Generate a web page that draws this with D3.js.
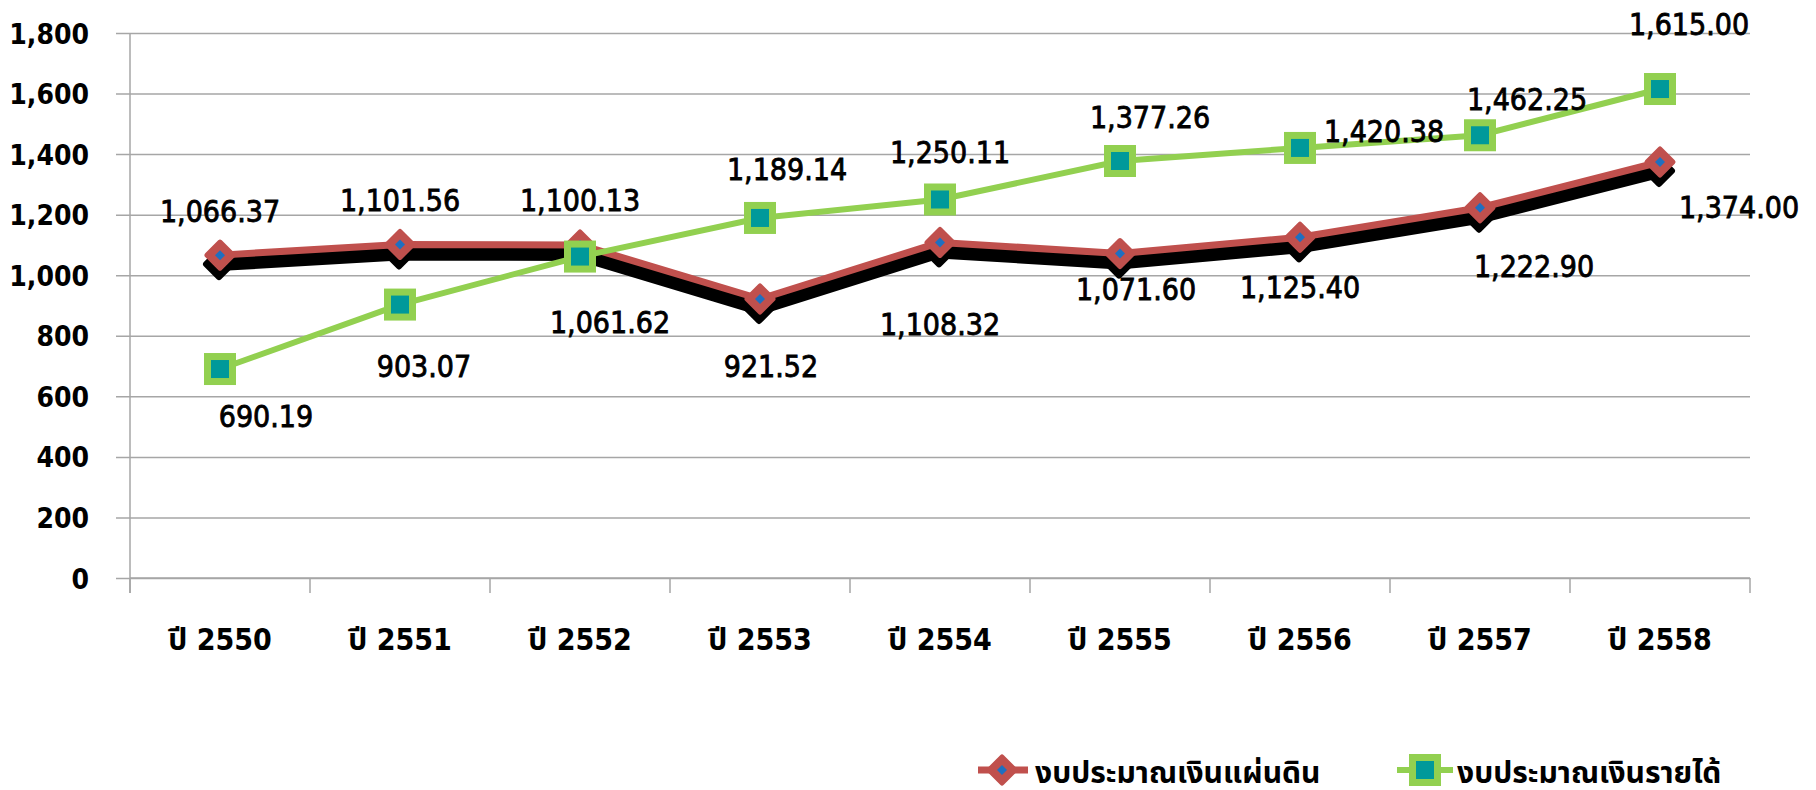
<!DOCTYPE html>
<html>
<head>
<meta charset="utf-8">
<script src="https://cdn.jsdelivr.net/npm/d3@7"></script>
<style>
  html, body { margin: 0; padding: 0; background: #fff; }
  svg { display: block; }
  text { font-family: "DejaVu Sans Condensed", "DejaVu Sans", "Noto Sans Thai", "Noto Sans", sans-serif; font-stretch: condensed; }
</style>
</head>
<body>
<svg id="chart" width="1816" height="790"></svg>
<script>
// data
var years        = ['ปี 2550', 'ปี 2551', 'ปี 2552', 'ปี 2553', 'ปี 2554', 'ปี 2555', 'ปี 2556', 'ปี 2557', 'ปี 2558'];
var landBudget   = [1066.37, 1101.56, 1100.13, 921.52, 1108.32, 1071.60, 1125.40, 1222.90, 1374.00]; // งบประมาณเงินแผ่นดิน
var incomeBudget = [690.19, 903.07, 1061.62, 1189.14, 1250.11, 1377.26, 1420.38, 1462.25, 1615.00];  // งบประมาณเงินรายได้
var seriesNames  = ['งบประมาณเงินแผ่นดิน', 'งบประมาณเงินรายได้'];
var yTicks       = [0, 200, 400, 600, 800, 1000, 1200, 1400, 1600, 1800];

// label nudges (dx, baseline dy) from each marker
var landLabelOff   = [[0,-33],[0,-33],[0,-34],[11,78],[0,93],[16,46],[0,61],[54,69],[79,56]];
var incomeLabelOff = [[46,58],[24,72],[30,76],[27,-38],[10,-36],[30,-33],[84,-6],[47,-25],[29,-54]];

var svg = d3.select('#chart'),
    pL = 130, pR = 1750, pT = 33, pB = 578; // plot box (window.top is taken, so no "top")

var x = d3.scaleBand().domain(years).range([pL, pR]).padding(0);
var y = d3.scaleLinear().domain([0, 1800]).range([pB, pT]);
var fmt = d3.format(',.2f');
var cx = function (i) { return x(years[i]) + x.bandwidth() / 2; };

var red = '#C0504D', blue = '#1F6FC0', green = '#92D050', teal = '#00999A', grid = '#A6A6A6';

// gridlines + y labels
svg.append('g')
    .attr('transform', 'translate(' + pL + ',0)')
    .call(d3.axisLeft(y).tickValues(yTicks).tickSize(-(pR - pL)).tickSizeOuter(0).tickFormat(d3.format(',')).tickPadding(0))
    .call(function (g) {
        g.select('.domain').remove();
        g.selectAll('.tick line').attr('stroke', grid).attr('stroke-width', 1.5).attr('x1', -14);
        g.selectAll('.tick text')
            .attr('x', -41).attr('dy', '0.36em')
            .attr('font-size', 28).attr('font-weight', 'bold').attr('fill', '#000')
            .attr('font-family', null);
    });

// y axis line
svg.append('line')
    .attr('x1', pL).attr('x2', pL).attr('y1', pT).attr('y2', pB + 15)
    .attr('stroke', grid).attr('stroke-width', 1.5);

// x axis with band-edge ticks
var xg = svg.append('g');
xg.append('line').attr('x1', pL).attr('x2', pR).attr('y1', pB).attr('y2', pB)
    .attr('stroke', grid).attr('stroke-width', 1.5);
xg.selectAll('line.tk').data(years.concat(['end']))
    .enter().append('line').attr('class', 'tk')
    .attr('x1', function (d, i) { return pL + i * x.bandwidth(); })
    .attr('x2', function (d, i) { return pL + i * x.bandwidth(); })
    .attr('y1', pB).attr('y2', pB + 15)
    .attr('stroke', grid).attr('stroke-width', 1.5);
xg.selectAll('text').data(years)
    .enter().append('text')
    .attr('x', function (d, i) { return cx(i); })
    .attr('y', 650)
    .attr('text-anchor', 'middle')
    .attr('font-size', 30).attr('font-weight', 'bold')
    .text(function (d) { return d; });

var line = d3.line()
    .x(function (d, i) { return cx(i); })
    .y(function (d) { return y(d); });

function diamond(s) {
    return 'M0,' + (-s) + 'L' + s + ',0L0,' + s + 'L' + (-s) + ',0Z';
}

// red series: hard black shadow first
var shadow = svg.append('g').attr('transform', 'translate(-1,9)');
shadow.append('path').datum(landBudget).attr('d', line)
    .attr('fill', 'none').attr('stroke', '#000').attr('stroke-width', 14)
    .attr('stroke-linejoin', 'round').attr('stroke-linecap', 'round');
shadow.selectAll('path.m').data(landBudget).enter().append('path').attr('class', 'm')
    .attr('transform', function (d, i) { return 'translate(' + cx(i) + ',' + y(d) + ')'; })
    .attr('d', diamond(13)).attr('fill', '#000')
    .attr('stroke', '#000').attr('stroke-width', 6).attr('stroke-linejoin', 'round');

svg.append('path').datum(landBudget).attr('d', line)
    .attr('fill', 'none').attr('stroke', red).attr('stroke-width', 7).attr('stroke-linejoin', 'round');
svg.selectAll('path.dm').data(landBudget).enter().append('path').attr('class', 'dm')
    .attr('transform', function (d, i) { return 'translate(' + cx(i) + ',' + y(d) + ')'; })
    .attr('d', diamond(13)).attr('fill', red)
    .attr('stroke', red).attr('stroke-width', 5).attr('stroke-linejoin', 'round');
svg.selectAll('path.di').data(landBudget).enter().append('path').attr('class', 'di')
    .attr('transform', function (d, i) { return 'translate(' + cx(i) + ',' + y(d) + ')'; })
    .attr('d', diamond(5)).attr('fill', blue);

// green series
svg.append('path').datum(incomeBudget).attr('d', line)
    .attr('fill', 'none').attr('stroke', green).attr('stroke-width', 6);
svg.selectAll('rect.so').data(incomeBudget).enter().append('rect').attr('class', 'so')
    .attr('x', function (d, i) { return cx(i) - 16; }).attr('y', function (d) { return y(d) - 16; })
    .attr('width', 32).attr('height', 32).attr('fill', green);
svg.selectAll('rect.si').data(incomeBudget).enter().append('rect').attr('class', 'si')
    .attr('x', function (d, i) { return cx(i) - 9; }).attr('y', function (d) { return y(d) - 9; })
    .attr('width', 18).attr('height', 18).attr('fill', teal);

// data labels
function labels(vals, offs) {
    svg.append('g').selectAll('text').data(vals).enter().append('text')
        .attr('x', function (d, i) { return cx(i) + offs[i][0]; })
        .attr('y', function (d, i) { return y(d) + offs[i][1]; })
        .attr('text-anchor', 'middle')
        .attr('font-size', 30).attr('fill', '#000')
        .attr('stroke', '#000').attr('stroke-width', 0.8)
        .text(function (d) { return fmt(d); });
}
labels(landBudget, landLabelOff);
labels(incomeBudget, incomeLabelOff);

// legend
var lg = svg.append('g');
var legendX = [1002, 1425];
// item 1
lg.append('line').attr('x1', legendX[0] - 24).attr('x2', legendX[0] + 26).attr('y1', 770).attr('y2', 770)
    .attr('stroke', red).attr('stroke-width', 7);
lg.append('path').attr('transform', 'translate(' + legendX[0] + ',770)').attr('d', diamond(13)).attr('fill', red)
    .attr('stroke', red).attr('stroke-width', 5).attr('stroke-linejoin', 'round');
lg.append('path').attr('transform', 'translate(' + legendX[0] + ',770)').attr('d', diamond(5)).attr('fill', blue);
// item 2
lg.append('line').attr('x1', legendX[1] - 28).attr('x2', legendX[1] + 28).attr('y1', 770).attr('y2', 770)
    .attr('stroke', green).attr('stroke-width', 6);
lg.append('rect').attr('x', legendX[1] - 16).attr('y', 754).attr('width', 32).attr('height', 32).attr('fill', green);
lg.append('rect').attr('x', legendX[1] - 9).attr('y', 761).attr('width', 18).attr('height', 18).attr('fill', teal);

lg.selectAll('text').data(seriesNames).enter().append('text')
    .attr('x', function (d, i) { return legendX[i] + (i ? 32 : 33); })
    .attr('y', 783)
    .attr('font-size', 30).attr('font-weight', 'bold')
    .text(function (d) { return d; });
</script>
</body>
</html>
